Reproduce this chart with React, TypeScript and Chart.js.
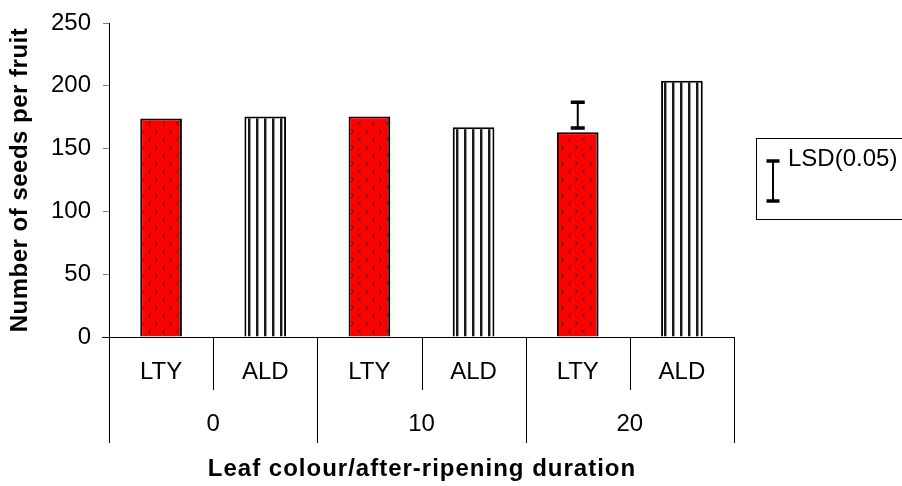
import React, { useEffect, useRef } from "react";
import { Chart, registerables } from "chart.js";

Chart.register(...registerables);

const leafColours = ["LTY", "ALD", "LTY", "ALD", "LTY", "ALD"];
const durations = ["0", "10", "20"];
const seedsPerFruit = [174, 175.5, 175.5, 167, 163, 204];
const lsdIndex = 4;
const lsdLow = 166.5;
const lsdHigh = 187;
const yTicks = [0, 50, 100, 150, 200, 250];

const FONT = "'Liberation Sans', Arial, sans-serif";

function makeRedPattern(): CanvasPattern | string {
  const c = document.createElement("canvas");
  c.width = 14;
  c.height = 16;
  const g = c.getContext("2d");
  if (!g) return "#ff0000";
  g.fillStyle = "#ff0000";
  g.fillRect(0, 0, 14, 16);
  g.fillStyle = "#1a0000";
  const px = (x: number, y: number) => g.fillRect(x, y, 1, 1);
  const gt = (x: number, y: number) => { px(x, y); px(x + 1, y + 1); px(x + 2, y + 2); px(x + 1, y + 3); px(x, y + 4); };
  const lt = (x: number, y: number) => { px(x + 2, y); px(x + 1, y + 1); px(x, y + 2); px(x + 1, y + 3); px(x + 2, y + 4); };
  gt(1, 1);
  lt(8, 9);
  const p = g.createPattern(c, "repeat");
  return p || "#ff0000";
}

function makeStripePattern(): CanvasPattern | string {
  const c = document.createElement("canvas");
  c.width = 8;
  c.height = 4;
  const g = c.getContext("2d");
  if (!g) return "#ffffff";
  g.fillStyle = "#ffffff";
  g.fillRect(0, 0, 8, 4);
  g.fillStyle = "#1a1a1a";
  g.fillRect(0, 0, 2, 4);
  g.fillStyle = "#9a9a9a";
  g.fillRect(2, 0, 1, 4);
  const p = g.createPattern(c, "repeat");
  return p || "#ffffff";
}

const decorPlugin = {
  id: "decor",
  afterDraw(chart: any) {
    const ctx = chart.ctx as CanvasRenderingContext2D;
    const { left, right, top, bottom } = chart.chartArea;
    const x = chart.scales.x;
    const y = chart.scales.y;
    ctx.save();
    // x axis line
    ctx.strokeStyle = "#000";
    ctx.lineWidth = 1;
    ctx.beginPath();
    ctx.moveTo(left - 7, Math.round(bottom) + 0.5);
    ctx.lineTo(right, Math.round(bottom) + 0.5);
    ctx.stroke();

    // boundaries
    const n = leafColours.length;
    const bounds: number[] = [];
    for (let i = 0; i <= n; i++) {
      if (i === 0) bounds.push(left);
      else if (i === n) bounds.push(right);
      else bounds.push((x.getPixelForValue(i - 1) + x.getPixelForValue(i)) / 2);
    }
    for (let i = 0; i <= n; i++) {
      const bx = Math.round(bounds[i]) + 0.5;
      const len = i % 2 === 0 ? 106 : 53;
      ctx.strokeStyle = "#000";
      ctx.beginPath();
      ctx.moveTo(bx, bottom);
      ctx.lineTo(bx, bottom + len);
      ctx.stroke();
    }

    ctx.fillStyle = "#000";
    ctx.textAlign = "center";
    ctx.textBaseline = "middle";
    ctx.font = `24px ${FONT}`;
    for (let i = 0; i < n; i++) {
      ctx.fillText(leafColours[i], x.getPixelForValue(i), bottom + 35);
    }
    for (let j = 0; j < durations.length; j++) {
      const cx = (bounds[2 * j] + bounds[2 * j + 2]) / 2;
      ctx.fillText(durations[j], cx, bottom + 87);
    }
    ctx.font = `bold 24px ${FONT}`;
    (ctx as any).letterSpacing = "1px";
    ctx.fillText("Leaf colour/after-ripening duration", (left + right) / 2 + 0.5, bottom + 132);

    // y title
    (ctx as any).letterSpacing = "0.5px";
    ctx.save();
    ctx.translate(20, (top + bottom) / 2);
    ctx.rotate(-Math.PI / 2);
    ctx.fillText("Number of seeds per fruit", 0, 0);
    ctx.restore();
    (ctx as any).letterSpacing = "0px";

    // LSD error bar on data
    const ex = x.getPixelForValue(lsdIndex);
    const yTop = y.getPixelForValue(lsdHigh);
    const yBot = y.getPixelForValue(lsdLow);
    ctx.strokeStyle = "#000";
    ctx.lineWidth = 2;
    ctx.beginPath();
    ctx.moveTo(ex, yTop);
    ctx.lineTo(ex, yBot);
    ctx.stroke();
    ctx.lineWidth = 3.5;
    ctx.beginPath();
    ctx.moveTo(ex - 7, yTop);
    ctx.lineTo(ex + 7, yTop);
    ctx.moveTo(ex - 7, yBot);
    ctx.lineTo(ex + 7, yBot);
    ctx.stroke();

    // Legend box
    ctx.lineWidth = 1;
    ctx.strokeStyle = "#000";
    ctx.strokeRect(756.5, 138.5, 160, 81);
    const lx = 773;
    ctx.lineWidth = 2;
    ctx.beginPath();
    ctx.moveTo(lx, 161);
    ctx.lineTo(lx, 201);
    ctx.stroke();
    ctx.lineWidth = 3.5;
    ctx.beginPath();
    ctx.moveTo(lx - 6.5, 161);
    ctx.lineTo(lx + 6.5, 161);
    ctx.moveTo(lx - 6.5, 201);
    ctx.lineTo(lx + 6.5, 201);
    ctx.stroke();
    ctx.font = `24px ${FONT}`;
    ctx.textAlign = "left";
    ctx.fillText("LSD(0.05)", 788, 159);
    ctx.restore();
  },
};

export default function App() {
  const ref = useRef<HTMLCanvasElement | null>(null);
  useEffect(() => {
    const canvas = ref.current;
    if (!canvas) return;
    const red = makeRedPattern();
    const stripes = makeStripePattern();
    const chart = new Chart(canvas, {
      type: "bar",
      data: {
        labels: leafColours,
        datasets: [
          {
            data: seedsPerFruit,
            backgroundColor: leafColours.map((l) => (l === "LTY" ? red : stripes)) as any,
            borderColor: "#000",
            borderWidth: 2,
            barPercentage: 0.4,
            categoryPercentage: 1,
          },
        ],
      },
      options: {
        responsive: false,
        animation: false,
        devicePixelRatio: 1,
        layout: { padding: { top: 23, right: 168, bottom: 149, left: 0 } },
        plugins: { legend: { display: false }, tooltip: { enabled: false } },
        scales: {
          x: { display: false },
          y: {
            min: 0,
            max: 250,
            afterBuildTicks: (s: any) => {
              s.ticks = yTicks.map((v) => ({ value: v }));
            },
            afterFit: (s: any) => {
              s.width = 109;
              s.paddingTop = 0;
              s.paddingBottom = 0;
            },
            grid: {
              drawOnChartArea: false,
              drawTicks: true,
              tickLength: 6,
              color: "#808080",
            },
            border: { display: true, color: "#000", width: 1 },
            ticks: {
              color: "#000",
              padding: 12,
              font: { family: FONT, size: 24 },
            },
            title: { display: false },
          },
        },
      },
      plugins: [decorPlugin],
    });
    return () => chart.destroy();
  }, []);
  return (
    <div style={{ position: "absolute", left: 0, top: 0, width: 902, height: 486, background: "#fff" }}>
      <canvas ref={ref} width={902} height={486} style={{ width: 902, height: 486 }} />
    </div>
  );
}
